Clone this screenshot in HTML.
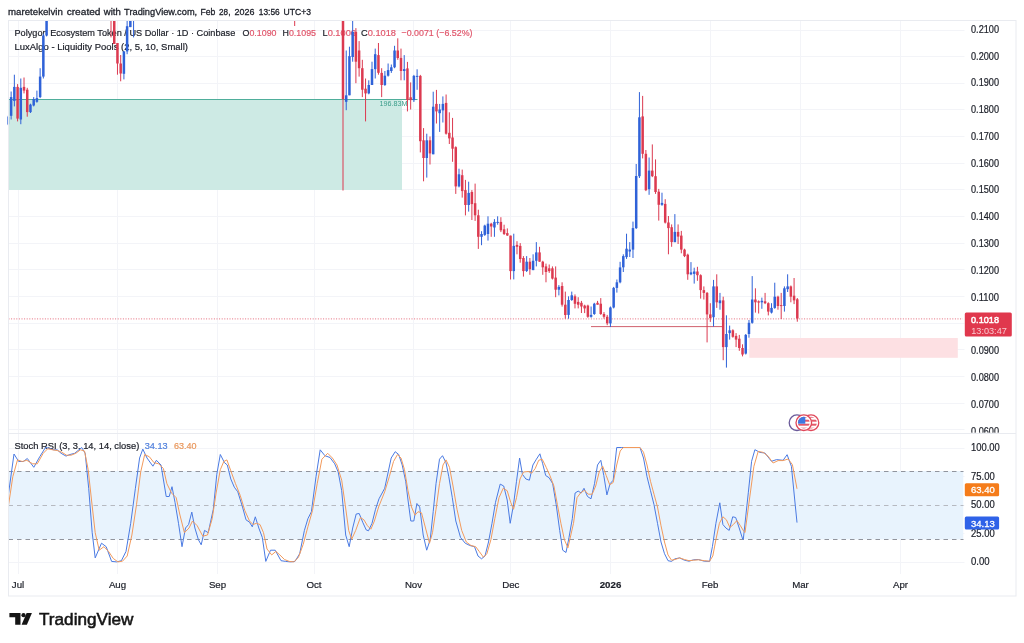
<!DOCTYPE html>
<html lang="en"><head><meta charset="utf-8"><title>POLUSD chart</title>
<style>html,body{margin:0;padding:0;background:#fff}svg{display:block;filter:blur(0.45px)}text{font-family:"Liberation Sans",sans-serif;font-size:9.7px;color:#1b1e27;fill:currentColor;stroke:currentColor;stroke-width:0.2px}tspan{fill:currentColor;stroke:currentColor}</style></head><body>
<svg width="1024" height="643" viewBox="0 0 1024 643">
<rect width="1024" height="643" fill="#fff"/>
<defs><clipPath id="mp"><rect x="7.5" y="21" width="955" height="412"/></clipPath><clipPath id="rp"><rect x="8.5" y="434" width="955" height="141"/></clipPath></defs>
<rect x="18" y="21" width="1" height="553" fill="#f3f4f8"/>
<rect x="117" y="21" width="1" height="553" fill="#f3f4f8"/>
<rect x="217" y="21" width="1" height="553" fill="#f3f4f8"/>
<rect x="314" y="21" width="1" height="553" fill="#f3f4f8"/>
<rect x="413" y="21" width="1" height="553" fill="#f3f4f8"/>
<rect x="510" y="21" width="1" height="553" fill="#f3f4f8"/>
<rect x="610" y="21" width="1" height="553" fill="#f3f4f8"/>
<rect x="710" y="21" width="1" height="553" fill="#f3f4f8"/>
<rect x="800" y="21" width="1" height="553" fill="#f3f4f8"/>
<rect x="900" y="21" width="1" height="553" fill="#f3f4f8"/>
<rect x="8.5" y="429" width="956" height="1" fill="#f3f4f8"/>
<rect x="8.5" y="403" width="956" height="1" fill="#f3f4f8"/>
<rect x="8.5" y="376" width="956" height="1" fill="#f3f4f8"/>
<rect x="8.5" y="349" width="956" height="1" fill="#f3f4f8"/>
<rect x="8.5" y="323" width="956" height="1" fill="#f3f4f8"/>
<rect x="8.5" y="296" width="956" height="1" fill="#f3f4f8"/>
<rect x="8.5" y="269" width="956" height="1" fill="#f3f4f8"/>
<rect x="8.5" y="243" width="956" height="1" fill="#f3f4f8"/>
<rect x="8.5" y="216" width="956" height="1" fill="#f3f4f8"/>
<rect x="8.5" y="189" width="956" height="1" fill="#f3f4f8"/>
<rect x="8.5" y="163" width="956" height="1" fill="#f3f4f8"/>
<rect x="8.5" y="136" width="956" height="1" fill="#f3f4f8"/>
<rect x="8.5" y="109" width="956" height="1" fill="#f3f4f8"/>
<rect x="8.5" y="83" width="956" height="1" fill="#f3f4f8"/>
<rect x="8.5" y="56" width="956" height="1" fill="#f3f4f8"/>
<rect x="8.5" y="30" width="956" height="1" fill="#f3f4f8"/>
<rect x="8.5" y="562" width="956" height="1" fill="#f3f4f8"/>
<rect x="8.5" y="533" width="956" height="1" fill="#f3f4f8"/>
<rect x="8.5" y="505" width="956" height="1" fill="#f3f4f8"/>
<rect x="8.5" y="476" width="956" height="1" fill="#f3f4f8"/>
<rect x="8.5" y="448" width="956" height="1" fill="#f3f4f8"/>
<g clip-path="url(#mp)">
<rect x="8.5" y="99.5" width="393.5" height="90.5" fill="#cdeae4"/>
<rect x="8.5" y="99" width="409" height="1" fill="#4fae9b"/>
<rect x="749.3" y="338" width="208.5" height="19.8" fill="#fde0e3"/>
<rect x="591" y="326.1" width="131.5" height="1" fill="#d0616e"/>
<line x1="8.5" x2="965" y1="318.9" y2="318.9" stroke="#dc3a50" stroke-width="1" stroke-dasharray="1 1.6" opacity="0.75"/>
<text x="14.5" y="36.1" textLength="220.8" lengthAdjust="spacingAndGlyphs">Polygon Ecosystem Token / US Dollar · 1D · Coinbase</text>
<text x="242.5" y="36.1" textLength="34" lengthAdjust="spacingAndGlyphs">O<tspan style="color:#e0556a">0.1090</tspan></text>
<text x="282.5" y="36.1" textLength="33.5" lengthAdjust="spacingAndGlyphs">H<tspan style="color:#e0556a">0.1095</tspan></text>
<text x="322.5" y="36.1" textLength="33.5" lengthAdjust="spacingAndGlyphs">L<tspan style="color:#e0556a">0.1006</tspan></text>
<text x="361" y="36.1" textLength="35" lengthAdjust="spacingAndGlyphs">C<tspan style="color:#e0556a">0.1018</tspan></text>
<text x="401.5" y="36.1" textLength="71" lengthAdjust="spacingAndGlyphs" style="color:#e0556a">−0.0071 (−6.52%)</text>
<text x="14.5" y="50" textLength="173.5" lengthAdjust="spacingAndGlyphs">LuxAlgo - Liquidity Pools (2, 5, 10, Small)</text>
<rect x="7.41" y="115.8" width="1" height="9.3" fill="#2f62d8"/>
<rect x="6.66" y="116.8" width="2.5" height="7.5" fill="#2f62d8"/>
<rect x="10.63" y="91.5" width="1" height="28.0" fill="#2f62d8"/>
<rect x="9.88" y="97.1" width="2.5" height="18.7" fill="#2f62d8"/>
<rect x="13.85" y="74.7" width="1" height="31.7" fill="#2f62d8"/>
<rect x="13.10" y="86.9" width="2.5" height="14.0" fill="#2f62d8"/>
<rect x="17.08" y="84.1" width="1" height="37.3" fill="#dc3a50"/>
<rect x="16.33" y="86.9" width="2.5" height="31.7" fill="#dc3a50"/>
<rect x="20.30" y="78.5" width="1" height="45.7" fill="#2f62d8"/>
<rect x="19.55" y="87.8" width="2.5" height="31.7" fill="#2f62d8"/>
<rect x="23.52" y="77.5" width="1" height="15.9" fill="#dc3a50"/>
<rect x="22.77" y="86.9" width="2.5" height="3.7" fill="#dc3a50"/>
<rect x="26.74" y="87.8" width="1" height="28.9" fill="#dc3a50"/>
<rect x="25.99" y="89.7" width="2.5" height="22.4" fill="#dc3a50"/>
<rect x="29.96" y="103.7" width="1" height="9.3" fill="#2f62d8"/>
<rect x="29.21" y="104.6" width="2.5" height="7.5" fill="#2f62d8"/>
<rect x="33.19" y="97.1" width="1" height="9.3" fill="#2f62d8"/>
<rect x="32.44" y="99.0" width="2.5" height="6.5" fill="#2f62d8"/>
<rect x="36.41" y="90.6" width="1" height="12.1" fill="#2f62d8"/>
<rect x="35.66" y="98.1" width="2.5" height="3.7" fill="#2f62d8"/>
<rect x="39.63" y="68.2" width="1" height="29.9" fill="#2f62d8"/>
<rect x="38.88" y="76.6" width="2.5" height="20.5" fill="#2f62d8"/>
<rect x="42.85" y="33.7" width="1" height="44.8" fill="#2f62d8"/>
<rect x="42.10" y="35.5" width="2.5" height="41.1" fill="#2f62d8"/>
<rect x="46.07" y="20.2" width="1" height="16.2" fill="#2f62d8"/>
<rect x="45.32" y="20.2" width="2.5" height="15.3" fill="#2f62d8"/>
<rect x="110.51" y="20.0" width="1" height="17.4" fill="#dc3a50"/>
<rect x="109.76" y="20.0" width="2.5" height="1.0" fill="#dc3a50"/>
<rect x="113.74" y="20.0" width="1" height="24.0" fill="#dc3a50"/>
<rect x="112.99" y="20.0" width="2.5" height="24.0" fill="#dc3a50"/>
<rect x="116.96" y="43.0" width="1" height="31.7" fill="#dc3a50"/>
<rect x="116.21" y="43.0" width="2.5" height="20.5" fill="#dc3a50"/>
<rect x="120.18" y="55.0" width="1" height="26.3" fill="#dc3a50"/>
<rect x="119.43" y="63.5" width="2.5" height="10.0" fill="#dc3a50"/>
<rect x="123.40" y="51.4" width="1" height="28.0" fill="#2f62d8"/>
<rect x="122.65" y="51.4" width="2.5" height="22.4" fill="#2f62d8"/>
<rect x="126.62" y="21.0" width="1" height="33.2" fill="#2f62d8"/>
<rect x="125.87" y="26.2" width="2.5" height="25.2" fill="#2f62d8"/>
<rect x="129.85" y="20.0" width="1" height="7.1" fill="#2f62d8"/>
<rect x="129.10" y="20.0" width="2.5" height="7.1" fill="#2f62d8"/>
<rect x="133.07" y="20.0" width="1" height="17.4" fill="#2f62d8"/>
<rect x="132.32" y="20.0" width="2.5" height="1.0" fill="#2f62d8"/>
<rect x="294.17" y="20.0" width="1" height="6.0" fill="#dc3a50"/>
<rect x="293.42" y="20.0" width="2.5" height="1.0" fill="#dc3a50"/>
<rect x="342.50" y="20.6" width="1" height="169.9" fill="#dc3a50"/>
<rect x="341.75" y="20.6" width="2.5" height="78.4" fill="#dc3a50"/>
<rect x="345.72" y="50.5" width="1" height="59.7" fill="#2f62d8"/>
<rect x="344.97" y="95.3" width="2.5" height="6.5" fill="#2f62d8"/>
<rect x="348.94" y="46.7" width="1" height="48.5" fill="#2f62d8"/>
<rect x="348.19" y="56.1" width="2.5" height="39.2" fill="#2f62d8"/>
<rect x="352.16" y="20.6" width="1" height="41.1" fill="#2f62d8"/>
<rect x="351.41" y="31.8" width="2.5" height="25.2" fill="#2f62d8"/>
<rect x="355.39" y="28.1" width="1" height="55.1" fill="#dc3a50"/>
<rect x="354.64" y="31.8" width="2.5" height="29.9" fill="#dc3a50"/>
<rect x="358.61" y="41.1" width="1" height="35.5" fill="#dc3a50"/>
<rect x="357.86" y="50.5" width="2.5" height="17.7" fill="#dc3a50"/>
<rect x="361.83" y="59.8" width="1" height="37.3" fill="#dc3a50"/>
<rect x="361.08" y="68.2" width="2.5" height="21.5" fill="#dc3a50"/>
<rect x="365.05" y="78.5" width="1" height="42.9" fill="#dc3a50"/>
<rect x="364.30" y="88.7" width="2.5" height="4.7" fill="#dc3a50"/>
<rect x="368.27" y="80.3" width="1" height="14.0" fill="#2f62d8"/>
<rect x="367.52" y="85.0" width="2.5" height="8.4" fill="#2f62d8"/>
<rect x="371.50" y="61.7" width="1" height="23.3" fill="#2f62d8"/>
<rect x="370.75" y="69.1" width="2.5" height="15.9" fill="#2f62d8"/>
<rect x="374.72" y="48.6" width="1" height="29.9" fill="#2f62d8"/>
<rect x="373.97" y="54.2" width="2.5" height="14.9" fill="#2f62d8"/>
<rect x="377.94" y="43.0" width="1" height="31.7" fill="#dc3a50"/>
<rect x="377.19" y="55.1" width="2.5" height="17.7" fill="#dc3a50"/>
<rect x="381.16" y="68.2" width="1" height="28.9" fill="#dc3a50"/>
<rect x="380.41" y="72.9" width="2.5" height="12.1" fill="#dc3a50"/>
<rect x="384.38" y="71.0" width="1" height="14.9" fill="#2f62d8"/>
<rect x="383.63" y="75.7" width="2.5" height="9.3" fill="#2f62d8"/>
<rect x="387.61" y="63.5" width="1" height="13.1" fill="#2f62d8"/>
<rect x="386.86" y="70.1" width="2.5" height="5.6" fill="#2f62d8"/>
<rect x="390.83" y="64.5" width="1" height="8.4" fill="#2f62d8"/>
<rect x="390.08" y="67.3" width="2.5" height="3.7" fill="#2f62d8"/>
<rect x="394.05" y="45.8" width="1" height="22.4" fill="#2f62d8"/>
<rect x="393.30" y="50.5" width="2.5" height="16.8" fill="#2f62d8"/>
<rect x="397.27" y="38.3" width="1" height="21.5" fill="#dc3a50"/>
<rect x="396.52" y="50.5" width="2.5" height="7.5" fill="#dc3a50"/>
<rect x="400.49" y="48.6" width="1" height="31.7" fill="#dc3a50"/>
<rect x="399.74" y="57.9" width="2.5" height="13.1" fill="#dc3a50"/>
<rect x="403.72" y="55.1" width="1" height="25.2" fill="#2f62d8"/>
<rect x="402.97" y="69.1" width="2.5" height="1.9" fill="#2f62d8"/>
<rect x="406.94" y="61.9" width="1" height="49.5" fill="#dc3a50"/>
<rect x="406.19" y="68.4" width="2.5" height="31.7" fill="#dc3a50"/>
<rect x="410.16" y="82.4" width="1" height="27.1" fill="#dc3a50"/>
<rect x="409.41" y="97.3" width="2.5" height="2.8" fill="#dc3a50"/>
<rect x="413.38" y="74.9" width="1" height="27.1" fill="#2f62d8"/>
<rect x="412.63" y="75.9" width="2.5" height="24.3" fill="#2f62d8"/>
<rect x="416.60" y="69.3" width="1" height="20.5" fill="#2f62d8"/>
<rect x="415.85" y="75.9" width="2.5" height="1.0" fill="#2f62d8"/>
<rect x="419.83" y="74.9" width="1" height="77.5" fill="#dc3a50"/>
<rect x="419.08" y="75.9" width="2.5" height="65.3" fill="#dc3a50"/>
<rect x="423.05" y="128.1" width="1" height="53.2" fill="#dc3a50"/>
<rect x="422.30" y="140.3" width="2.5" height="17.7" fill="#dc3a50"/>
<rect x="426.27" y="133.7" width="1" height="43.9" fill="#2f62d8"/>
<rect x="425.52" y="140.3" width="2.5" height="17.7" fill="#2f62d8"/>
<rect x="429.49" y="136.5" width="1" height="28.0" fill="#dc3a50"/>
<rect x="428.74" y="140.3" width="2.5" height="13.1" fill="#dc3a50"/>
<rect x="432.71" y="91.7" width="1" height="62.5" fill="#2f62d8"/>
<rect x="431.96" y="106.7" width="2.5" height="47.6" fill="#2f62d8"/>
<rect x="435.94" y="89.9" width="1" height="33.6" fill="#dc3a50"/>
<rect x="435.19" y="103.9" width="2.5" height="7.5" fill="#dc3a50"/>
<rect x="439.16" y="103.9" width="1" height="28.0" fill="#2f62d8"/>
<rect x="438.41" y="109.5" width="2.5" height="3.7" fill="#2f62d8"/>
<rect x="442.38" y="96.4" width="1" height="26.1" fill="#2f62d8"/>
<rect x="441.63" y="103.9" width="2.5" height="6.5" fill="#2f62d8"/>
<rect x="445.60" y="94.5" width="1" height="40.1" fill="#dc3a50"/>
<rect x="444.85" y="102.9" width="2.5" height="30.8" fill="#dc3a50"/>
<rect x="448.82" y="112.3" width="1" height="31.7" fill="#dc3a50"/>
<rect x="448.07" y="132.8" width="2.5" height="5.6" fill="#dc3a50"/>
<rect x="452.05" y="117.9" width="1" height="43.9" fill="#dc3a50"/>
<rect x="451.30" y="137.5" width="2.5" height="11.2" fill="#dc3a50"/>
<rect x="455.27" y="146.3" width="1" height="47.6" fill="#dc3a50"/>
<rect x="454.52" y="147.2" width="2.5" height="39.2" fill="#dc3a50"/>
<rect x="458.49" y="168.7" width="1" height="18.7" fill="#2f62d8"/>
<rect x="457.74" y="174.3" width="2.5" height="12.1" fill="#2f62d8"/>
<rect x="461.71" y="169.6" width="1" height="28.0" fill="#dc3a50"/>
<rect x="460.96" y="175.2" width="2.5" height="15.9" fill="#dc3a50"/>
<rect x="464.93" y="179.9" width="1" height="35.5" fill="#dc3a50"/>
<rect x="464.18" y="190.1" width="2.5" height="14.9" fill="#dc3a50"/>
<rect x="468.16" y="181.7" width="1" height="29.9" fill="#2f62d8"/>
<rect x="467.41" y="192.9" width="2.5" height="12.1" fill="#2f62d8"/>
<rect x="471.38" y="190.1" width="1" height="29.9" fill="#dc3a50"/>
<rect x="470.63" y="192.0" width="2.5" height="12.1" fill="#dc3a50"/>
<rect x="474.60" y="183.6" width="1" height="37.3" fill="#dc3a50"/>
<rect x="473.85" y="203.2" width="2.5" height="12.1" fill="#dc3a50"/>
<rect x="477.82" y="209.7" width="1" height="39.2" fill="#dc3a50"/>
<rect x="477.07" y="215.3" width="2.5" height="21.5" fill="#dc3a50"/>
<rect x="481.04" y="231.2" width="1" height="14.0" fill="#2f62d8"/>
<rect x="480.29" y="234.0" width="2.5" height="2.8" fill="#2f62d8"/>
<rect x="484.27" y="224.7" width="1" height="11.2" fill="#2f62d8"/>
<rect x="483.52" y="225.6" width="2.5" height="9.3" fill="#2f62d8"/>
<rect x="487.49" y="216.3" width="1" height="24.3" fill="#2f62d8"/>
<rect x="486.74" y="223.7" width="2.5" height="10.3" fill="#2f62d8"/>
<rect x="490.71" y="222.8" width="1" height="14.0" fill="#dc3a50"/>
<rect x="489.96" y="223.7" width="2.5" height="2.8" fill="#dc3a50"/>
<rect x="493.93" y="219.1" width="1" height="17.7" fill="#2f62d8"/>
<rect x="493.18" y="221.9" width="2.5" height="5.6" fill="#2f62d8"/>
<rect x="497.15" y="216.3" width="1" height="8.4" fill="#2f62d8"/>
<rect x="496.40" y="221.9" width="2.5" height="1.0" fill="#2f62d8"/>
<rect x="500.38" y="217.2" width="1" height="14.9" fill="#dc3a50"/>
<rect x="499.63" y="221.9" width="2.5" height="8.4" fill="#dc3a50"/>
<rect x="503.60" y="224.7" width="1" height="10.3" fill="#dc3a50"/>
<rect x="502.85" y="229.3" width="2.5" height="4.7" fill="#dc3a50"/>
<rect x="506.82" y="228.4" width="1" height="7.5" fill="#dc3a50"/>
<rect x="506.07" y="233.1" width="2.5" height="2.4" fill="#dc3a50"/>
<rect x="510.04" y="235.6" width="1" height="43.9" fill="#dc3a50"/>
<rect x="509.29" y="235.6" width="2.5" height="35.5" fill="#dc3a50"/>
<rect x="513.26" y="233.7" width="1" height="45.7" fill="#2f62d8"/>
<rect x="512.51" y="245.9" width="2.5" height="25.2" fill="#2f62d8"/>
<rect x="516.49" y="241.2" width="1" height="13.1" fill="#dc3a50"/>
<rect x="515.74" y="244.9" width="2.5" height="1.9" fill="#dc3a50"/>
<rect x="519.71" y="243.1" width="1" height="19.6" fill="#dc3a50"/>
<rect x="518.96" y="245.9" width="2.5" height="13.1" fill="#dc3a50"/>
<rect x="522.93" y="256.1" width="1" height="20.5" fill="#dc3a50"/>
<rect x="522.18" y="258.0" width="2.5" height="13.1" fill="#dc3a50"/>
<rect x="526.15" y="256.1" width="1" height="15.9" fill="#2f62d8"/>
<rect x="525.40" y="261.7" width="2.5" height="9.3" fill="#2f62d8"/>
<rect x="529.37" y="258.0" width="1" height="16.8" fill="#dc3a50"/>
<rect x="528.62" y="261.7" width="2.5" height="7.5" fill="#dc3a50"/>
<rect x="532.60" y="254.3" width="1" height="15.9" fill="#2f62d8"/>
<rect x="531.85" y="260.8" width="2.5" height="9.3" fill="#2f62d8"/>
<rect x="535.82" y="242.1" width="1" height="24.3" fill="#2f62d8"/>
<rect x="535.07" y="252.4" width="2.5" height="8.4" fill="#2f62d8"/>
<rect x="539.04" y="246.8" width="1" height="14.9" fill="#dc3a50"/>
<rect x="538.29" y="252.4" width="2.5" height="9.3" fill="#dc3a50"/>
<rect x="542.26" y="260.8" width="1" height="14.0" fill="#dc3a50"/>
<rect x="541.51" y="261.7" width="2.5" height="5.6" fill="#dc3a50"/>
<rect x="545.48" y="263.6" width="1" height="18.7" fill="#dc3a50"/>
<rect x="544.73" y="266.4" width="2.5" height="5.6" fill="#dc3a50"/>
<rect x="548.71" y="264.5" width="1" height="8.4" fill="#dc3a50"/>
<rect x="547.96" y="268.3" width="2.5" height="2.8" fill="#dc3a50"/>
<rect x="551.93" y="266.4" width="1" height="13.1" fill="#dc3a50"/>
<rect x="551.18" y="268.3" width="2.5" height="10.3" fill="#dc3a50"/>
<rect x="555.15" y="266.4" width="1" height="30.8" fill="#dc3a50"/>
<rect x="554.40" y="277.6" width="2.5" height="12.1" fill="#dc3a50"/>
<rect x="558.37" y="285.1" width="1" height="10.3" fill="#2f62d8"/>
<rect x="557.62" y="286.9" width="2.5" height="2.8" fill="#2f62d8"/>
<rect x="561.59" y="282.3" width="1" height="24.3" fill="#dc3a50"/>
<rect x="560.84" y="286.0" width="2.5" height="18.7" fill="#dc3a50"/>
<rect x="564.82" y="291.6" width="1" height="27.1" fill="#dc3a50"/>
<rect x="564.07" y="304.7" width="2.5" height="10.3" fill="#dc3a50"/>
<rect x="568.04" y="296.3" width="1" height="22.4" fill="#2f62d8"/>
<rect x="567.29" y="300.0" width="2.5" height="14.9" fill="#2f62d8"/>
<rect x="571.26" y="291.6" width="1" height="9.3" fill="#2f62d8"/>
<rect x="570.51" y="295.3" width="2.5" height="4.7" fill="#2f62d8"/>
<rect x="574.48" y="294.4" width="1" height="14.0" fill="#dc3a50"/>
<rect x="573.73" y="296.3" width="2.5" height="7.5" fill="#dc3a50"/>
<rect x="577.70" y="297.2" width="1" height="11.2" fill="#dc3a50"/>
<rect x="576.95" y="301.9" width="2.5" height="2.8" fill="#dc3a50"/>
<rect x="580.93" y="300.9" width="1" height="12.1" fill="#dc3a50"/>
<rect x="580.18" y="302.8" width="2.5" height="3.7" fill="#dc3a50"/>
<rect x="584.15" y="304.7" width="1" height="8.4" fill="#dc3a50"/>
<rect x="583.40" y="305.6" width="2.5" height="2.8" fill="#dc3a50"/>
<rect x="587.37" y="304.7" width="1" height="13.1" fill="#dc3a50"/>
<rect x="586.62" y="305.6" width="2.5" height="11.2" fill="#dc3a50"/>
<rect x="590.59" y="306.5" width="1" height="11.2" fill="#2f62d8"/>
<rect x="589.84" y="314.9" width="2.5" height="1.9" fill="#2f62d8"/>
<rect x="593.81" y="302.8" width="1" height="12.1" fill="#2f62d8"/>
<rect x="593.06" y="303.7" width="2.5" height="10.3" fill="#2f62d8"/>
<rect x="597.04" y="300.9" width="1" height="3.7" fill="#dc3a50"/>
<rect x="596.29" y="302.8" width="2.5" height="1.9" fill="#dc3a50"/>
<rect x="600.26" y="298.1" width="1" height="16.8" fill="#dc3a50"/>
<rect x="599.51" y="303.7" width="2.5" height="10.3" fill="#dc3a50"/>
<rect x="603.48" y="312.1" width="1" height="6.5" fill="#dc3a50"/>
<rect x="602.73" y="314.0" width="2.5" height="2.8" fill="#dc3a50"/>
<rect x="606.70" y="314.9" width="1" height="10.3" fill="#dc3a50"/>
<rect x="605.95" y="316.8" width="2.5" height="6.5" fill="#dc3a50"/>
<rect x="609.92" y="306.5" width="1" height="20.5" fill="#2f62d8"/>
<rect x="609.17" y="307.5" width="2.5" height="15.9" fill="#2f62d8"/>
<rect x="613.15" y="286.9" width="1" height="21.5" fill="#2f62d8"/>
<rect x="612.40" y="287.9" width="2.5" height="19.6" fill="#2f62d8"/>
<rect x="616.37" y="279.5" width="1" height="13.1" fill="#2f62d8"/>
<rect x="615.62" y="282.3" width="2.5" height="5.6" fill="#2f62d8"/>
<rect x="619.59" y="261.8" width="1" height="21.5" fill="#2f62d8"/>
<rect x="618.84" y="267.4" width="2.5" height="14.9" fill="#2f62d8"/>
<rect x="622.81" y="254.3" width="1" height="17.7" fill="#2f62d8"/>
<rect x="622.06" y="256.1" width="2.5" height="11.2" fill="#2f62d8"/>
<rect x="626.03" y="233.7" width="1" height="25.2" fill="#2f62d8"/>
<rect x="625.28" y="248.7" width="2.5" height="8.4" fill="#2f62d8"/>
<rect x="629.26" y="242.1" width="1" height="14.9" fill="#2f62d8"/>
<rect x="628.51" y="249.6" width="2.5" height="1.9" fill="#2f62d8"/>
<rect x="632.48" y="221.6" width="1" height="36.4" fill="#2f62d8"/>
<rect x="631.73" y="228.1" width="2.5" height="21.5" fill="#2f62d8"/>
<rect x="635.70" y="164.0" width="1" height="65.0" fill="#2f62d8"/>
<rect x="634.95" y="176.0" width="2.5" height="52.1" fill="#2f62d8"/>
<rect x="638.92" y="92.1" width="1" height="85.9" fill="#2f62d8"/>
<rect x="638.17" y="117.3" width="2.5" height="58.9" fill="#2f62d8"/>
<rect x="642.14" y="95.9" width="1" height="62.5" fill="#dc3a50"/>
<rect x="641.39" y="116.4" width="2.5" height="37.4" fill="#dc3a50"/>
<rect x="645.37" y="150.0" width="1" height="41.1" fill="#dc3a50"/>
<rect x="644.62" y="153.8" width="2.5" height="36.4" fill="#dc3a50"/>
<rect x="648.59" y="157.5" width="1" height="37.3" fill="#2f62d8"/>
<rect x="647.84" y="170.6" width="2.5" height="18.6" fill="#2f62d8"/>
<rect x="651.81" y="144.4" width="1" height="32.7" fill="#dc3a50"/>
<rect x="651.06" y="170.6" width="2.5" height="5.6" fill="#dc3a50"/>
<rect x="655.03" y="159.4" width="1" height="34.5" fill="#dc3a50"/>
<rect x="654.28" y="176.2" width="2.5" height="15.8" fill="#dc3a50"/>
<rect x="658.25" y="188.9" width="1" height="31.7" fill="#dc3a50"/>
<rect x="657.50" y="191.7" width="2.5" height="13.1" fill="#dc3a50"/>
<rect x="661.48" y="192.7" width="1" height="13.1" fill="#2f62d8"/>
<rect x="660.73" y="202.9" width="2.5" height="1.9" fill="#2f62d8"/>
<rect x="664.70" y="199.2" width="1" height="24.3" fill="#dc3a50"/>
<rect x="663.95" y="203.9" width="2.5" height="18.7" fill="#dc3a50"/>
<rect x="667.92" y="216.0" width="1" height="38.3" fill="#dc3a50"/>
<rect x="667.17" y="222.5" width="2.5" height="5.6" fill="#dc3a50"/>
<rect x="671.14" y="224.4" width="1" height="22.4" fill="#dc3a50"/>
<rect x="670.39" y="227.2" width="2.5" height="14.9" fill="#dc3a50"/>
<rect x="674.36" y="214.1" width="1" height="28.0" fill="#2f62d8"/>
<rect x="673.61" y="231.9" width="2.5" height="10.3" fill="#2f62d8"/>
<rect x="677.59" y="224.4" width="1" height="19.6" fill="#dc3a50"/>
<rect x="676.84" y="231.9" width="2.5" height="4.7" fill="#dc3a50"/>
<rect x="680.81" y="230.9" width="1" height="22.4" fill="#dc3a50"/>
<rect x="680.06" y="235.6" width="2.5" height="14.0" fill="#dc3a50"/>
<rect x="684.03" y="248.7" width="1" height="8.4" fill="#dc3a50"/>
<rect x="683.28" y="249.6" width="2.5" height="6.5" fill="#dc3a50"/>
<rect x="687.25" y="253.7" width="1" height="26.1" fill="#dc3a50"/>
<rect x="686.50" y="254.7" width="2.5" height="19.6" fill="#dc3a50"/>
<rect x="690.47" y="262.1" width="1" height="13.1" fill="#2f62d8"/>
<rect x="689.72" y="272.4" width="2.5" height="1.9" fill="#2f62d8"/>
<rect x="693.70" y="267.7" width="1" height="15.9" fill="#2f62d8"/>
<rect x="692.95" y="271.5" width="2.5" height="2.4" fill="#2f62d8"/>
<rect x="696.92" y="266.8" width="1" height="14.0" fill="#dc3a50"/>
<rect x="696.17" y="271.5" width="2.5" height="3.7" fill="#dc3a50"/>
<rect x="700.14" y="274.3" width="1" height="24.3" fill="#dc3a50"/>
<rect x="699.39" y="275.2" width="2.5" height="14.9" fill="#dc3a50"/>
<rect x="703.36" y="286.4" width="1" height="13.1" fill="#dc3a50"/>
<rect x="702.61" y="290.1" width="2.5" height="2.8" fill="#dc3a50"/>
<rect x="706.58" y="292.0" width="1" height="50.4" fill="#dc3a50"/>
<rect x="705.83" y="292.9" width="2.5" height="21.5" fill="#dc3a50"/>
<rect x="709.81" y="303.2" width="1" height="18.7" fill="#dc3a50"/>
<rect x="709.06" y="314.4" width="2.5" height="3.7" fill="#dc3a50"/>
<rect x="713.03" y="279.9" width="1" height="46.7" fill="#2f62d8"/>
<rect x="712.28" y="286.4" width="2.5" height="30.8" fill="#2f62d8"/>
<rect x="716.25" y="274.3" width="1" height="33.6" fill="#dc3a50"/>
<rect x="715.50" y="286.4" width="2.5" height="15.9" fill="#dc3a50"/>
<rect x="719.47" y="292.9" width="1" height="16.8" fill="#2f62d8"/>
<rect x="718.72" y="300.4" width="2.5" height="2.8" fill="#2f62d8"/>
<rect x="722.69" y="296.7" width="1" height="63.5" fill="#dc3a50"/>
<rect x="721.94" y="300.4" width="2.5" height="46.7" fill="#dc3a50"/>
<rect x="725.92" y="315.3" width="1" height="52.3" fill="#2f62d8"/>
<rect x="725.17" y="334.0" width="2.5" height="13.1" fill="#2f62d8"/>
<rect x="729.14" y="325.6" width="1" height="14.0" fill="#2f62d8"/>
<rect x="728.39" y="330.3" width="2.5" height="2.8" fill="#2f62d8"/>
<rect x="732.36" y="329.3" width="1" height="8.4" fill="#dc3a50"/>
<rect x="731.61" y="330.3" width="2.5" height="6.5" fill="#dc3a50"/>
<rect x="735.58" y="333.1" width="1" height="14.0" fill="#dc3a50"/>
<rect x="734.83" y="335.9" width="2.5" height="3.7" fill="#dc3a50"/>
<rect x="738.80" y="334.9" width="1" height="15.9" fill="#dc3a50"/>
<rect x="738.05" y="338.7" width="2.5" height="9.3" fill="#dc3a50"/>
<rect x="742.03" y="344.3" width="1" height="12.1" fill="#dc3a50"/>
<rect x="741.28" y="348.0" width="2.5" height="6.5" fill="#dc3a50"/>
<rect x="745.25" y="334.0" width="1" height="20.5" fill="#2f62d8"/>
<rect x="744.50" y="334.9" width="2.5" height="18.7" fill="#2f62d8"/>
<rect x="748.47" y="320.0" width="1" height="17.7" fill="#2f62d8"/>
<rect x="747.72" y="322.8" width="2.5" height="11.2" fill="#2f62d8"/>
<rect x="751.69" y="276.1" width="1" height="47.6" fill="#2f62d8"/>
<rect x="750.94" y="299.5" width="2.5" height="23.3" fill="#2f62d8"/>
<rect x="754.91" y="288.3" width="1" height="24.3" fill="#dc3a50"/>
<rect x="754.16" y="299.5" width="2.5" height="2.8" fill="#dc3a50"/>
<rect x="758.14" y="300.4" width="1" height="13.1" fill="#dc3a50"/>
<rect x="757.39" y="301.3" width="2.5" height="1.3" fill="#dc3a50"/>
<rect x="761.36" y="297.6" width="1" height="11.2" fill="#2f62d8"/>
<rect x="760.61" y="300.8" width="2.5" height="1.5" fill="#2f62d8"/>
<rect x="764.58" y="292.9" width="1" height="11.2" fill="#dc3a50"/>
<rect x="763.83" y="301.3" width="2.5" height="1.9" fill="#dc3a50"/>
<rect x="767.80" y="302.3" width="1" height="13.1" fill="#dc3a50"/>
<rect x="767.05" y="303.2" width="2.5" height="8.4" fill="#dc3a50"/>
<rect x="771.02" y="303.2" width="1" height="10.3" fill="#2f62d8"/>
<rect x="770.27" y="307.9" width="2.5" height="4.7" fill="#2f62d8"/>
<rect x="774.25" y="282.7" width="1" height="26.1" fill="#2f62d8"/>
<rect x="773.50" y="296.7" width="2.5" height="11.2" fill="#2f62d8"/>
<rect x="777.47" y="295.7" width="1" height="14.0" fill="#dc3a50"/>
<rect x="776.72" y="296.7" width="2.5" height="9.3" fill="#dc3a50"/>
<rect x="780.69" y="292.9" width="1" height="26.1" fill="#dc3a50"/>
<rect x="779.94" y="305.1" width="2.5" height="1.0" fill="#dc3a50"/>
<rect x="783.91" y="286.4" width="1" height="25.2" fill="#2f62d8"/>
<rect x="783.16" y="288.3" width="2.5" height="17.7" fill="#2f62d8"/>
<rect x="787.13" y="274.3" width="1" height="17.7" fill="#2f62d8"/>
<rect x="786.38" y="286.4" width="2.5" height="2.8" fill="#2f62d8"/>
<rect x="790.36" y="285.5" width="1" height="16.8" fill="#dc3a50"/>
<rect x="789.61" y="286.4" width="2.5" height="10.3" fill="#dc3a50"/>
<rect x="793.58" y="278.0" width="1" height="26.1" fill="#dc3a50"/>
<rect x="792.83" y="295.7" width="2.5" height="4.7" fill="#dc3a50"/>
<rect x="796.80" y="298.0" width="1" height="23.7" fill="#dc3a50"/>
<rect x="796.05" y="299.3" width="2.5" height="19.2" fill="#dc3a50"/>
<text x="379.5" y="106" textLength="28" lengthAdjust="spacingAndGlyphs" style="font-size:7px;color:#3a9d8a;stroke-width:0">196.83M</text>
</g>
<g clip-path="url(#rp)">
<rect x="8.5" y="471.0" width="955" height="68.4" fill="#e8f3fd"/>
<line x1="8.5" x2="964" y1="471.5" y2="471.5" stroke="#91949d" stroke-width="1" stroke-dasharray="4.5 4"/>
<line x1="8.5" x2="964" y1="505.5" y2="505.5" stroke="#b6b9c0" stroke-width="1" stroke-dasharray="4.5 4"/>
<line x1="8.5" x2="964" y1="539.5" y2="539.5" stroke="#91949d" stroke-width="1" stroke-dasharray="4.5 4"/>
<text x="14.5" y="448.7" textLength="124.8" lengthAdjust="spacingAndGlyphs">Stoch RSI (3, 3, 14, 14, close)</text>
<text x="144.7" y="448.7" textLength="22.9" lengthAdjust="spacingAndGlyphs" style="color:#4f7fdc">34.13</text>
<text x="173.9" y="448.7" textLength="22.5" lengthAdjust="spacingAndGlyphs" style="color:#e9965a">63.40</text>
<polyline points="8.6,493.0 14.0,454.0 18.7,461.5 23.3,461.5 27.3,458.5 33.8,467.3 39.7,456.8 45.5,447.5 49.0,448.2 53.7,449.8 57.2,449.8 61.1,453.3 66.0,456.1 70.0,454.5 74.7,453.3 81.7,447.5 85.2,453.3 88.7,488.3 92.2,532.7 95.2,557.9 101.5,543.2 106.2,546.7 111.6,561.4 116.7,561.9 121.4,560.7 126.0,551.4 130.7,523.3 135.4,488.3 139.6,458.0 142.8,449.1 147.0,458.0 152.9,466.2 156.4,460.3 161.0,465.0 166.2,496.5 169.2,496.5 172.0,486.7 175.0,502.3 178.5,523.3 182.0,546.7 185.5,528.0 188.6,524.5 191.8,512.1 194.9,528.0 198.4,539.7 201.2,544.8 204.5,530.4 208.2,532.7 213.3,509.3 216.8,474.3 220.3,454.5 224.5,462.7 227.3,465.0 230.8,479.0 234.3,487.2 237.8,491.8 242.5,507.0 246.0,519.8 249.5,522.2 252.3,526.8 255.3,516.8 258.8,528.0 262.3,537.4 265.8,561.4 270.5,550.2 275.2,550.2 281.0,560.7 285.7,561.4 290.4,561.9 295.0,561.4 299.7,553.7 304.4,530.4 307.9,518.7 311.4,511.7 316.0,476.7 320.2,449.8 324.9,455.7 330.0,457.5 334.7,463.8 338.2,472.0 341.7,490.7 345.7,535.0 349.2,546.7 352.7,528.0 356.2,514.0 359.2,513.5 362.7,522.2 366.2,529.9 368.5,530.8 372.0,523.3 375.5,509.3 379.0,498.8 384.7,488.3 388.2,472.0 391.2,458.0 395.2,451.7 398.7,454.5 402.2,465.0 405.7,481.3 408.0,500.0 410.8,521.0 413.8,521.0 416.9,503.5 419.7,507.0 423.2,535.0 426.7,550.2 430.2,539.7 433.2,511.7 436.0,483.7 439.5,459.2 442.5,455.7 446.0,462.7 448.8,476.7 452.3,497.7 455.8,521.0 460.5,537.4 465.2,543.2 469.8,545.5 474.5,546.7 478.0,556.0 481.5,558.8 485.0,556.0 488.5,542.0 492.0,523.3 495.5,502.3 500.2,484.1 503.7,486.0 507.2,500.0 510.2,523.3 513.5,504.7 516.5,481.3 519.6,458.0 522.4,474.3 525.9,479.0 529.4,480.2 532.9,465.0 536.4,459.2 539.9,453.8 542.7,463.8 545.7,475.5 549.2,477.8 552.7,483.7 556.2,504.7 559.7,530.4 562.7,550.2 566.0,552.5 569.0,537.4 572.3,518.7 575.1,493.0 578.2,491.1 581.2,493.0 584.0,488.3 587.5,496.5 591.0,498.8 594.5,483.7 597.5,465.0 600.8,460.3 603.8,475.5 606.9,494.9 610.1,483.7 613.2,480.2 616.7,447.5 621.3,447.5 640.0,447.5 643.5,458.0 647.0,476.7 650.5,490.7 654.0,504.7 657.5,523.3 661.0,542.0 664.5,553.7 668.0,560.7 671.5,561.4 675.0,558.8 679.7,557.9 684.4,560.2 689.0,561.2 693.7,559.8 698.4,559.5 704.2,561.2 709.6,561.4 712.4,546.7 715.9,523.3 719.8,502.8 722.9,524.5 725.9,528.0 729.2,530.4 732.7,516.8 735.7,517.5 739.2,528.0 742.7,539.2 743.3,539.2 748.3,492.8 751.6,461.3 754.9,449.7 759.9,452.4 764.9,453.0 771.5,461.3 776.5,459.6 783.1,460.3 787.1,454.7 791.4,466.3 797.0,522.6" fill="none" stroke="#4a7ae2" stroke-width="1" stroke-linejoin="round"/>
<polyline points="8.6,504.7 12.8,476.7 17.5,459.9 22.2,461.5 26.8,460.3 32.7,463.8 37.3,463.8 43.2,453.3 47.8,448.7 52.5,449.8 57.2,450.5 61.8,452.2 66.5,455.2 71.2,455.2 75.8,453.3 80.5,449.8 84.5,451.0 88.2,469.7 91.5,500.0 95.2,532.7 99.2,550.2 103.9,546.7 108.5,551.4 113.2,558.4 117.9,561.9 122.5,561.2 127.2,556.0 131.9,535.0 136.5,504.7 140.7,472.0 144.7,454.5 149.4,456.8 154.0,462.7 158.7,463.8 163.4,468.5 166.9,483.7 171.5,493.0 176.2,497.7 179.7,514.0 184.4,532.7 189.0,528.0 192.5,521.0 197.2,525.7 202.8,536.2 207.5,535.0 212.2,518.7 216.1,493.0 220.3,469.7 223.8,461.5 226.9,459.9 230.8,470.8 235.5,483.7 240.2,495.3 244.8,510.5 249.5,521.0 253.0,524.5 256.5,523.3 260.0,524.5 263.5,532.7 267.0,549.0 271.7,554.9 275.9,551.4 279.8,554.9 284.5,559.5 289.2,561.4 293.9,561.9 298.5,557.2 303.2,544.4 307.9,526.8 312.5,510.5 317.2,483.7 321.9,459.2 327.7,453.3 332.4,458.0 337.0,465.0 341.7,480.2 345.2,504.7 348.7,530.4 351.7,539.2 355.7,530.4 360.4,517.5 363.9,519.8 367.4,525.7 370.9,529.2 374.4,521.0 378.6,507.0 384.7,491.8 389.3,476.7 393.5,461.5 397.5,454.5 401.0,458.0 404.5,469.7 408.0,490.7 411.5,507.0 415.0,515.2 418.0,511.7 421.5,512.8 425.5,528.0 429.5,543.2 432.5,532.7 436.0,509.3 439.5,483.7 443.0,465.0 446.0,459.9 449.5,467.3 453.0,486.0 457.0,509.3 461.7,530.4 466.3,542.0 471.0,545.5 475.7,546.7 479.2,551.4 483.4,557.2 486.9,553.7 490.9,539.7 494.8,518.7 499.0,497.7 503.2,488.3 507.2,490.7 510.7,502.3 513.5,509.3 516.5,497.7 520.0,479.0 523.5,472.0 528.2,471.5 531.7,473.2 535.2,468.5 538.7,460.3 542.2,459.2 546.2,467.3 549.9,475.5 553.9,486.0 557.4,504.7 560.9,523.3 564.4,539.7 567.9,547.9 573.5,523.3 577.0,497.7 580.5,493.0 584.5,490.2 588.2,494.2 592.2,494.2 595.7,486.0 599.2,472.0 602.7,466.2 606.2,475.5 609.7,484.8 613.2,482.5 616.7,465.0 620.2,451.0 623.2,447.5 640.0,447.5 643.5,452.2 647.0,465.0 650.5,481.3 654.0,494.2 657.5,507.0 661.0,525.7 664.5,542.0 668.0,554.9 671.5,560.2 675.0,559.5 679.7,557.9 684.4,559.5 689.0,560.7 693.7,560.2 698.4,559.8 704.2,560.7 709.6,561.2 712.8,556.0 715.9,539.7 719.4,523.3 722.9,516.8 726.4,519.8 729.9,527.5 733.4,524.5 736.9,520.5 740.4,525.7 743.9,531.5 745.0,532.6 749.9,496.1 753.9,466.3 758.2,451.4 763.2,452.4 768.2,456.3 773.1,463.0 778.1,460.6 783.1,460.6 788.1,459.0 792.4,464.6 797.0,488.8" fill="none" stroke="#f29a5c" stroke-width="1" stroke-linejoin="round"/>
</g>
<rect x="8.5" y="20.5" width="1007.5" height="575.5" fill="none" stroke="#e9ebf0" stroke-width="1"/>
<rect x="8.5" y="433" width="1007.5" height="1" fill="#e9ebf0"/>
<text x="971" y="434.5" textLength="28" lengthAdjust="spacingAndGlyphs" style="font-size:10.2px">0.0600</text>
<text x="971" y="407.7" textLength="28" lengthAdjust="spacingAndGlyphs" style="font-size:10.2px">0.0700</text>
<text x="971" y="380.9" textLength="28" lengthAdjust="spacingAndGlyphs" style="font-size:10.2px">0.0800</text>
<text x="971" y="354.2" textLength="28" lengthAdjust="spacingAndGlyphs" style="font-size:10.2px">0.0900</text>
<text x="971" y="327.4" textLength="28" lengthAdjust="spacingAndGlyphs" style="font-size:10.2px">0.1000</text>
<text x="971" y="300.6" textLength="28" lengthAdjust="spacingAndGlyphs" style="font-size:10.2px">0.1100</text>
<text x="971" y="273.8" textLength="28" lengthAdjust="spacingAndGlyphs" style="font-size:10.2px">0.1200</text>
<text x="971" y="247.0" textLength="28" lengthAdjust="spacingAndGlyphs" style="font-size:10.2px">0.1300</text>
<text x="971" y="220.2" textLength="28" lengthAdjust="spacingAndGlyphs" style="font-size:10.2px">0.1400</text>
<text x="971" y="193.4" textLength="28" lengthAdjust="spacingAndGlyphs" style="font-size:10.2px">0.1500</text>
<text x="971" y="166.6" textLength="28" lengthAdjust="spacingAndGlyphs" style="font-size:10.2px">0.1600</text>
<text x="971" y="139.9" textLength="28" lengthAdjust="spacingAndGlyphs" style="font-size:10.2px">0.1700</text>
<text x="971" y="113.1" textLength="28" lengthAdjust="spacingAndGlyphs" style="font-size:10.2px">0.1800</text>
<text x="971" y="86.3" textLength="28" lengthAdjust="spacingAndGlyphs" style="font-size:10.2px">0.1900</text>
<text x="971" y="59.5" textLength="28" lengthAdjust="spacingAndGlyphs" style="font-size:10.2px">0.2000</text>
<text x="971" y="32.7" textLength="28" lengthAdjust="spacingAndGlyphs" style="font-size:10.2px">0.2100</text>
<rect x="966" y="432.7" width="49" height="3" fill="#fff"/>
<rect x="8.5" y="433" width="1007.5" height="1" fill="#e9ebf0"/>
<text x="971" y="565.0" textLength="18.6" lengthAdjust="spacingAndGlyphs" style="font-size:10.2px">0.00</text>
<text x="971" y="536.5" textLength="23.7" lengthAdjust="spacingAndGlyphs" style="font-size:10.2px">25.00</text>
<text x="971" y="508.0" textLength="23.7" lengthAdjust="spacingAndGlyphs" style="font-size:10.2px">50.00</text>
<text x="971" y="479.5" textLength="23.7" lengthAdjust="spacingAndGlyphs" style="font-size:10.2px">75.00</text>
<text x="971" y="451.0" textLength="28.8" lengthAdjust="spacingAndGlyphs" style="font-size:10.2px">100.00</text>
<rect x="964.8" y="312.4" width="47" height="24.2" rx="1.5" fill="#e0384d"/>
<text x="971" y="322.6" textLength="28" lengthAdjust="spacingAndGlyphs" style="color:#fff;stroke-width:0.5px">0.1018</text>
<text x="971.3" y="333.6" textLength="35.5" lengthAdjust="spacingAndGlyphs" style="color:#f9c9cf;stroke-width:0">13:03:47</text>
<rect x="964.8" y="483.2" width="34.3" height="13" rx="1.5" fill="#f57c1a"/>
<text x="971" y="493.3" textLength="23.8" lengthAdjust="spacingAndGlyphs" style="color:#fff;stroke-width:0.3px">63.40</text>
<rect x="964.8" y="516.6" width="34.3" height="13" rx="1.5" fill="#2f62e8"/>
<text x="971" y="526.7" textLength="23.8" lengthAdjust="spacingAndGlyphs" style="color:#fff;stroke-width:0.3px">34.13</text>
<text x="18" y="587.8" text-anchor="middle">Jul</text>
<text x="117.5" y="587.8" text-anchor="middle">Aug</text>
<text x="217.5" y="587.8" text-anchor="middle">Sep</text>
<text x="314" y="587.8" text-anchor="middle">Oct</text>
<text x="413.5" y="587.8" text-anchor="middle">Nov</text>
<text x="510.8" y="587.8" text-anchor="middle">Dec</text>
<text x="610.5" y="587.8" text-anchor="middle" style="font-weight:bold">2026</text>
<text x="710" y="587.8" text-anchor="middle">Feb</text>
<text x="800.5" y="587.8" text-anchor="middle">Mar</text>
<text x="900.5" y="587.8" text-anchor="middle">Apr</text>
<text y="15.1" style="font-size:9.9px;stroke-width:0.3px"><tspan x="8.05" textLength="54.8" lengthAdjust="spacingAndGlyphs">maretekelvin</tspan> <tspan x="66.7" textLength="33.8" lengthAdjust="spacingAndGlyphs">created</tspan> <tspan x="103.8" textLength="17" lengthAdjust="spacingAndGlyphs">with</tspan> <tspan x="124.1" textLength="73.1" lengthAdjust="spacingAndGlyphs">TradingView.com,</tspan> <tspan x="200.4" textLength="14.9" lengthAdjust="spacingAndGlyphs">Feb</tspan> <tspan x="219.1" textLength="11.3" lengthAdjust="spacingAndGlyphs">28,</tspan> <tspan x="234.6" textLength="20" lengthAdjust="spacingAndGlyphs">2026</tspan> <tspan x="258.8" textLength="20.9" lengthAdjust="spacingAndGlyphs">13:56</tspan> <tspan x="283.6" textLength="27.4" lengthAdjust="spacingAndGlyphs">UTC+3</tspan></text>
<g><clipPath id="fc2"><circle cx="811" cy="422.7" r="5.9"/></clipPath>
<circle cx="811" cy="422.7" r="7.8" fill="#fff"/>
<g clip-path="url(#fc2)">
<rect x="803.2" y="415.7" width="15.6" height="2" fill="#e4596a"/>
<rect x="803.2" y="419.7" width="15.6" height="2" fill="#e4596a"/>
<rect x="803.2" y="423.7" width="15.6" height="2" fill="#e4596a"/>
<rect x="803.2" y="427.7" width="15.6" height="2" fill="#e4596a"/>
</g>
<circle cx="811" cy="422.7" r="7.8" fill="none" stroke="#e0485a" stroke-width="1.3"/></g>
<g><clipPath id="fc0"><circle cx="797" cy="422.7" r="5.9"/></clipPath>
<circle cx="797" cy="422.7" r="7.8" fill="#fff"/>
<circle cx="797" cy="422.7" r="7.8" fill="none" stroke="#6a5a9a" stroke-width="1.3"/></g>
<g><clipPath id="fc1"><circle cx="803.8" cy="422.7" r="5.9"/></clipPath>
<circle cx="803.8" cy="422.7" r="7.8" fill="#fff"/>
<g clip-path="url(#fc1)">
<rect x="796.0" y="415.7" width="15.6" height="2" fill="#e4596a"/>
<rect x="796.0" y="419.7" width="15.6" height="2" fill="#e4596a"/>
<rect x="796.0" y="423.7" width="15.6" height="2" fill="#e4596a"/>
<rect x="796.0" y="427.7" width="15.6" height="2" fill="#e4596a"/>
<rect x="796.0" y="414.9" width="9.3" height="8.8" fill="#3f78e0"/>
</g>
<circle cx="803.8" cy="422.7" r="7.8" fill="none" stroke="#e0485a" stroke-width="1.3"/></g>
<g fill="#151515"><path d="M9.4 613h11.1v11.8h-5.3v-7.5H9.4z"/><circle cx="23.5" cy="615.2" r="2.1"/><path d="M26.6 613h5.3l-5 11.8h-5.3z"/></g>
<text x="39" y="625.2" textLength="94.4" lengthAdjust="spacingAndGlyphs" style="font-size:17px;color:#151515;stroke-width:0.55px">TradingView</text>
</svg></body></html>
